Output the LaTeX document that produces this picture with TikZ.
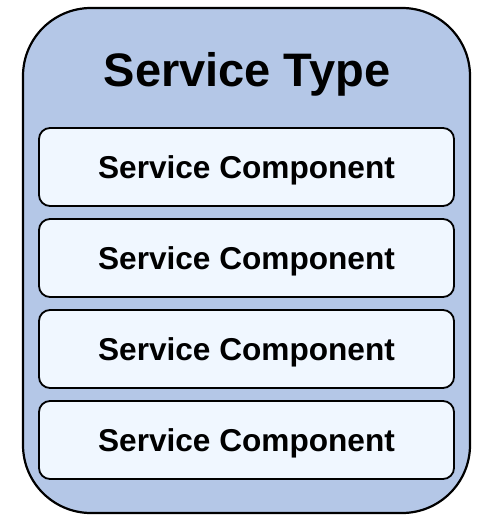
\documentclass[tikz,border=0pt]{standalone}
\usepackage{fontspec}
\setmainfont{Liberation Sans}
\usetikzlibrary{positioning}
\definecolor{typeblue}{RGB}{180,199,231}
\definecolor{compwhite}{RGB}{240,247,255}
\tikzstyle{servicetype}=[rectangle, rounded corners=68pt, minimum width=447pt, minimum height=505pt, draw=black, line width=2.2pt, fill=typeblue]
\tikzstyle{component}=[rectangle, rounded corners=11pt, minimum width=415pt, minimum height=78pt, text centered, text height=22.6pt, text depth=0pt, draw=black, line width=1.8pt, fill=compwhite, font=\fontsize{31.6}{36}\selectfont\bfseries]
\tikzstyle{title}=[font=\fontsize{47}{54}\selectfont\bfseries, inner sep=0pt]

\begin{document}
\begin{tikzpicture}[x=1pt, y=1pt, node distance=11.2pt]
		\useasboundingbox (0,0) rectangle (476,-516);
		\node(type)[servicetype] at (246.5,-260.5){};
		\node(typetitle)[title, anchor=base] at (247,-87){Service Type};
		
		\node(comp1)[component] at (246.5,-167){Service Component};
		\node(comp2)[component, below=of comp1]{Service Component};
		\node(comp3)[component, below=of comp2]{Service Component};
		\node(comp4)[component, below=of comp3]{Service Component};
	\end{tikzpicture}
\end{document}
